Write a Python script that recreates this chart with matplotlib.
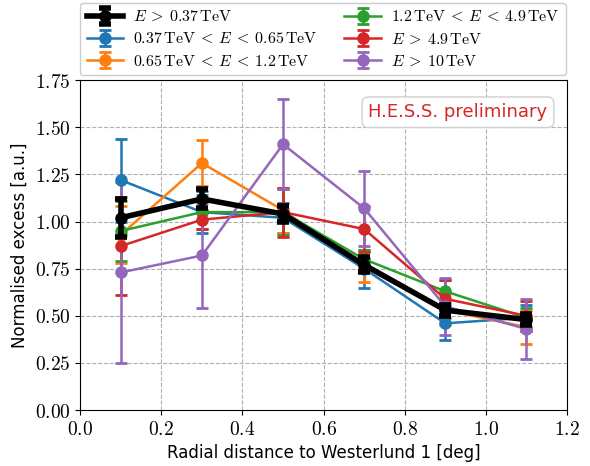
import matplotlib
matplotlib.use("Agg")
import matplotlib.pyplot as plt
from matplotlib.ticker import FuncFormatter, MultipleLocator

plt.rcParams["mathtext.fontset"] = "cm"

# radial bins [deg]
r = [0.1, 0.3, 0.5, 0.7, 0.9, 1.1]

labels = [r"$E\:>\:0.37\,\mathrm{TeV}$",
          r"$0.37\,\mathrm{TeV}\:<\:E\:<\:0.65\,\mathrm{TeV}$",
          r"$0.65\,\mathrm{TeV}\:<\:E\:<\:1.2\,\mathrm{TeV}$",
          r"$1.2\,\mathrm{TeV}\:<\:E\:<\:4.9\,\mathrm{TeV}$",
          r"$E\:>\:4.9\,\mathrm{TeV}$",
          r"$E\:>\:10\,\mathrm{TeV}$"]
colors = ["black", "#1f77b4", "#ff7f0e", "#2ca02c", "#d62728", "#9467bd"]

all_e   = [1.02, 1.12, 1.04, 0.77, 0.53, 0.48]
all_err = [0.10, 0.05, 0.04, 0.04, 0.03, 0.03]
e1      = [1.22, 1.05, 1.02, 0.75, 0.46, 0.49]
e1_err  = [0.22, 0.11, 0.08, 0.10, 0.09, 0.07]
e2      = [0.93, 1.31, 1.06, 0.76, 0.53, 0.44]
e2_err  = [0.15, 0.12, 0.12, 0.08, 0.08, 0.09]
e3      = [0.95, 1.05, 1.05, 0.80, 0.63, 0.49]
e3_err  = [0.16, 0.09, 0.12, 0.05, 0.06, 0.05]
e4      = [0.87, 1.01, 1.05, 0.96, 0.59, 0.50]
e4_err  = [0.26, 0.05, 0.13, 0.12, 0.10, 0.08]
e5      = [0.73, 0.82, 1.41, 1.07, 0.55, 0.43]
e5_err  = [0.48, 0.28, 0.24, 0.20, 0.15, 0.16]

series = [all_e, e1, e2, e3, e4, e5]
errors = [all_err, e1_err, e2_err, e3_err, e4_err, e5_err]

fig = plt.figure(figsize=(5.9, 4.66), dpi=100)
ax = fig.add_axes([0.136, 0.12, 0.825, 0.708])

handles = []
for i, (y, yerr, c, lab) in enumerate(zip(series, errors, colors, labels)):
    if i == 0:
        h = ax.errorbar(r, y, yerr=yerr, color=c, lw=4, marker="o", ms=8,
                        capsize=4, capthick=4, elinewidth=4, label=lab, zorder=5)
    else:
        h = ax.errorbar(r, y, yerr=yerr, color=c, lw=1.8, marker="o", ms=8,
                        capsize=4, capthick=2, elinewidth=1.8, label=lab, zorder=3)
    handles.append(h)

ax.set_xlim(0, 1.2)
ax.set_ylim(0, 1.75)
ax.xaxis.set_major_locator(MultipleLocator(0.2))
ax.yaxis.set_major_locator(MultipleLocator(0.25))
ax.xaxis.set_major_formatter(FuncFormatter(lambda v, p: f"${v:.1f}$"))
ax.yaxis.set_major_formatter(FuncFormatter(lambda v, p: f"${v:.2f}$"))
ax.tick_params(labelsize=14)
ax.grid(True, ls="--", color="#b0b0b0", lw=0.8)
ax.set_axisbelow(True)

ax.set_xlabel("Radial distance to Westerlund 1 [deg]", fontsize=12)
ax.set_ylabel("Normalised excess [a.u.]", fontsize=12)

ax.text(0.96, 0.93, "H.E.S.S. preliminary", transform=ax.transAxes,
        ha="right", va="top", fontsize=13, color="#d62728",
        bbox=dict(boxstyle="round,pad=0.35", fc="white", ec="#cccccc", alpha=0.9))

fig.legend(handles, labels,
           ncol=2, loc="upper left", mode="expand",
           bbox_to_anchor=(0.136, 0.0, 0.823, 0.994), borderaxespad=0.0,
           fontsize=11.5, handlelength=2.3, handletextpad=0.6,
           borderpad=0.4, labelspacing=0.45,
           edgecolor="#cccccc", framealpha=1.0)

fig.savefig("out.png", dpi=100)
